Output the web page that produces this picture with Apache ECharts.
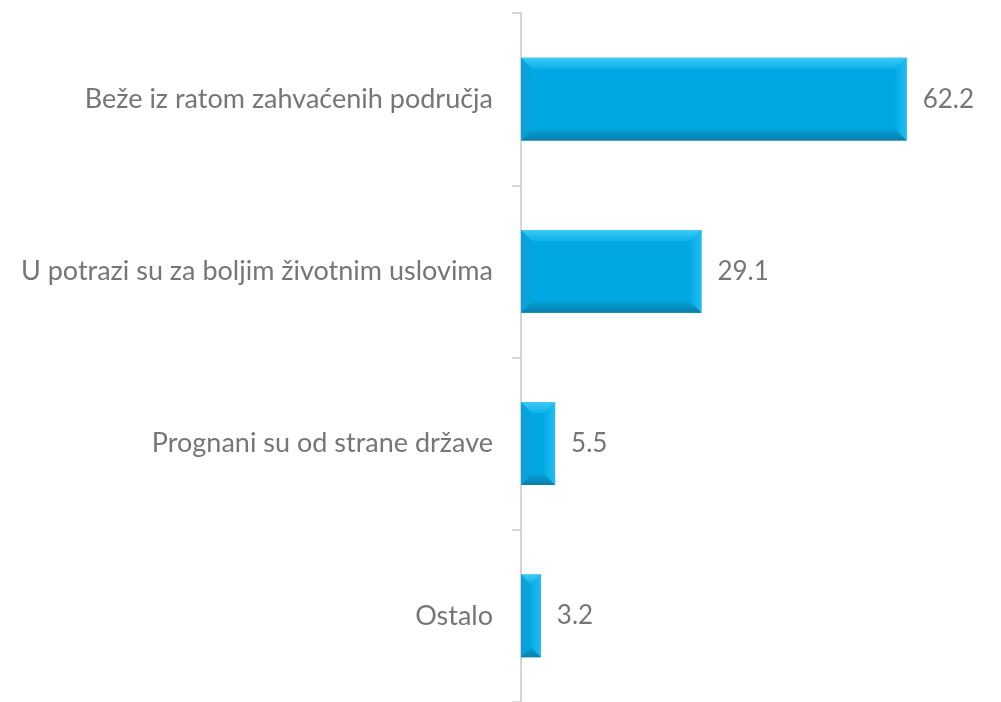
<!DOCTYPE html>
<html>
<head>
<meta charset="utf-8">
<script src="https://cdn.jsdelivr.net/npm/echarts@6/dist/echarts.min.js"></script>
<style>
  html, body { margin: 0; padding: 0; background: #fff; }
  #chart { width: 1001px; height: 702px; }
</style>
</head>
<body>
<div id="chart"></div>
<script>
// kategorije odozgo prema dolje
var categories = [
  'Beže iz ratom zahvaćenih područja',
  'U potrazi su za boljim životnim uslovima',
  'Prognani su od strane države',
  'Ostalo'
]
var values = [62.2, 29.1, 5.5, 3.2]

var myChart = echarts.init(document.getElementById('chart'))

// bar sa "bevel" efektom kao u Excelu
function renderBevelBar(params, api) {
  var idx = api.value(0)
  var val = api.value(1)
  var start = api.coord([0, idx])
  var end = api.coord([val, idx])
  var band = api.size([0, 1])[1]
  var h = band * 0.48
  var x0 = start[0], x1 = end[0]
  var y0 = start[1] - h / 2, y1 = start[1] + h / 2
  var w = x1 - x0
  var b = Math.min(11, w / 2, h / 2)
  var ix0 = x0 + b, ix1 = x1 - b, iy0 = y0 + b, iy1 = y1 - b
  return {
    type: 'group',
    children: [
      { type: 'rect', shape: { x: x0, y: y0, width: w, height: h }, style: { fill: '#00a8e3' } },
      { // gore
        type: 'polygon',
        shape: { points: [[x0, y0], [x1, y0], [ix1, iy0], [ix0, iy0]] },
        style: { fill: new echarts.graphic.LinearGradient(0, 0, 0, 1, [
          { offset: 0, color: '#3ccaf6' }, { offset: 1, color: '#0db1ea' }]) }
      },
      { // lijevo
        type: 'polygon',
        shape: { points: [[x0, y0], [ix0, iy0], [ix0, iy1], [x0, y1]] },
        style: { fill: new echarts.graphic.LinearGradient(0, 0, 1, 0, [
          { offset: 0, color: '#0b9fd6' }, { offset: 1, color: '#03a6e0' }]) }
      },
      { // desno
        type: 'polygon',
        shape: { points: [[x1, y0], [x1, y1], [ix1, iy1], [ix1, iy0]] },
        style: { fill: new echarts.graphic.LinearGradient(0, 0, 1, 0, [
          { offset: 0, color: '#06ace6' }, { offset: 1, color: '#22bdf0' }]) }
      },
      { // dolje
        type: 'polygon',
        shape: { points: [[x0, y1], [ix0, iy1], [ix1, iy1], [x1, y1]] },
        style: { fill: new echarts.graphic.LinearGradient(0, 0, 0, 1, [
          { offset: 0, color: '#04a0d8' }, { offset: 1, color: '#0a7eab' }]) }
      },
      {
        type: 'text',
        style: {
          text: String(val),
          x: x1 + 16,
          y: start[1],
          verticalAlign: 'middle',
          fill: '#767676',
          font: '26px Lato'
        }
      }
    ]
  }
}

var option = {
  animation: false,
  grid: {
    left: 521,
    top: 13,
    width: 434,
    height: 694
  },
  xAxis: {
    type: 'value',
    min: 0,
    max: 70,
    show: false
  },
  yAxis: {
    type: 'category',
    data: categories,
    inverse: true,
    axisLine: {
      show: true,
      lineStyle: { color: '#c8c8c8', width: 1.5 }
    },
    axisTick: {
      show: true,
      length: 9,
      lineStyle: { color: '#c8c8c8', width: 1.5 }
    },
    axisLabel: {
      color: '#767676',
      fontSize: 27,
      fontFamily: 'Lato',
      margin: 28
    },
    splitLine: { show: false }
  },
  series: [{
    type: 'custom',
    renderItem: renderBevelBar,
    encode: { x: 1, y: 0 },
    data: values.map(function (v, i) { return [i, v] })
  }]
}

myChart.setOption(option)
</script>
</body>
</html>
